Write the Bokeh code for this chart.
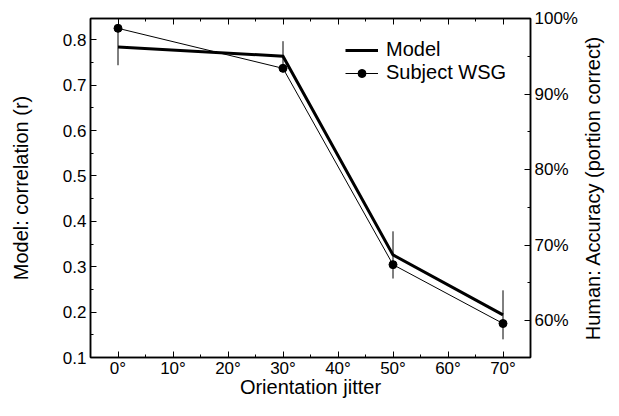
from bokeh.plotting import figure
from bokeh.layouts import row
from bokeh.models import (LinearAxis, Range1d, FixedTicker, Legend, LegendItem,
                          ColumnDataSource, NumeralTickFormatter, BasicTickFormatter)
from bokeh.embed import file_html
from bokeh.resources import INLINE

# ---- data ----
jitter = [0, 30, 50, 70]
model_r = [0.784, 0.764, 0.326, 0.194]
model_err = [0.040, 0.033, 0.052, 0.054]
subject_acc = [0.987, 0.934, 0.674, 0.596]

x_ticks = [0, 10, 20, 30, 40, 50, 60, 70]
x_minor = [5, 15, 25, 35, 45, 55, 65]
x_tick_labels = ["0°", "10°", "20°", "30°", "40°", "50°", "60°", "70°"]
left_ticks = [0.1, 0.2, 0.3, 0.4, 0.5, 0.6, 0.7, 0.8]
left_minor = [0.15, 0.25, 0.35, 0.45, 0.55, 0.65, 0.75]
right_ticks = [0.6, 0.7, 0.8, 0.9, 1.0]
right_minor = [0.65, 0.75, 0.85, 0.95]

FONT = "Liberation Sans"
TICK_FS = "17px"

src = ColumnDataSource(dict(
    x=jitter, m=model_r, s=subject_acc,
    lo=[v - e for v, e in zip(model_r, model_err)],
    hi=[v + e for v, e in zip(model_r, model_err)],
))

p = figure(width=580, height=400, output_backend="svg", toolbar_location=None,
           x_range=Range1d(-5, 75), y_range=Range1d(0.1, 0.847),
           min_border_left=90, min_border_right=48, min_border_top=18,
           min_border_bottom=42, x_axis_location=None, y_axis_location=None)
p.extra_y_ranges = {"acc": Range1d(0.551, 1.0)}
p.xgrid.visible = False
p.ygrid.visible = False
p.outline_line_color = "black"
p.outline_line_width = 1.5
p.background_fill_color = "white"
p.border_fill_color = "white"


def style(ax, label_fs="20px"):
    ax.axis_line_color = "black"
    ax.axis_line_width = 1.5
    ax.major_tick_in = 6
    ax.major_tick_out = 0
    ax.minor_tick_in = 3
    ax.minor_tick_out = 0
    ax.major_tick_line_color = "black"
    ax.minor_tick_line_color = "black"
    ax.major_label_text_font = FONT
    ax.major_label_text_font_size = TICK_FS
    ax.major_label_text_color = "black"
    ax.axis_label_text_font = FONT
    ax.axis_label_text_font_size = label_fs
    ax.axis_label_text_font_style = "normal"
    ax.axis_label_text_color = "black"


xb = LinearAxis(ticker=FixedTicker(ticks=x_ticks, minor_ticks=x_minor),
                axis_label="Orientation jitter")
style(xb, "20px")
xb.major_label_overrides = {t: l for t, l in zip(x_ticks, x_tick_labels)}
xb.major_label_standoff = 1
xb.axis_label_standoff = -5
p.add_layout(xb, "below")

xt = LinearAxis(ticker=FixedTicker(ticks=x_ticks, minor_ticks=x_minor))
style(xt)
xt.major_label_text_color = None
xt.major_label_text_font_size = "1px"
xt.major_label_standoff = 0
p.add_layout(xt, "above")

yl = LinearAxis(ticker=FixedTicker(ticks=left_ticks, minor_ticks=left_minor),
                formatter=BasicTickFormatter(precision=1),
                axis_label="Model: correlation (r)")
style(yl)
yl.major_label_standoff = 4
yl.axis_label_standoff = 28
p.add_layout(yl, "left")

yr = LinearAxis(y_range_name="acc",
                ticker=FixedTicker(ticks=right_ticks, minor_ticks=right_minor),
                formatter=NumeralTickFormatter(format="0%"))
style(yr)
yr.major_label_standoff = 4
p.add_layout(yr, "right")

# error bars (model)
p.segment(x0="x", y0="lo", x1="x", y1="hi", source=src,
          line_color="black", line_width=1)

model_line = p.line("x", "m", source=src, line_color="black", line_width=3,
                    line_join="miter")
subj_line = p.line("x", "s", source=src, y_range_name="acc",
                   line_color="black", line_width=1)
subj_dots = p.scatter("x", "s", source=src, y_range_name="acc", size=8,
                      fill_color="black", line_color="black")

legend = Legend(items=[LegendItem(label="Model", renderers=[model_line]),
                       LegendItem(label="Subject WSG", renderers=[subj_line, subj_dots])],
                location=(255, 273), orientation="vertical")
legend.border_line_color = None
legend.background_fill_alpha = 0
legend.padding = 0
legend.margin = 0
legend.spacing = 0
legend.glyph_width = 33
legend.glyph_height = 20
legend.label_height = 20
legend.label_standoff = 8
legend.label_text_font = FONT
legend.label_text_font_size = "20px"
legend.label_text_color = "black"
p.add_layout(legend)

# narrow companion figure that only carries the right-hand axis title,
# drawn as a left axis title so that it reads bottom-to-top
side = figure(width=23, height=400, output_backend="svg", toolbar_location=None,
              x_range=Range1d(0, 1), y_range=Range1d(0.551, 1.0),
              min_border_left=22, min_border_right=0, min_border_top=18,
              min_border_bottom=42, x_axis_location=None, y_axis_location=None)
side.xgrid.visible = False
side.ygrid.visible = False
side.outline_line_color = None
side.background_fill_color = "white"
side.border_fill_color = "white"
side_ax = LinearAxis(ticker=FixedTicker(ticks=[], minor_ticks=[]),
                     axis_label="Human: Accuracy (portion correct)")
style(side_ax)
side_ax.axis_line_color = None
side_ax.major_tick_line_color = None
side_ax.minor_tick_line_color = None
side_ax.major_label_standoff = 0
side_ax.axis_label_standoff = 0
side.add_layout(side_ax, "left")

layout = row(p, side, spacing=0)
open("out.html", "w").write(file_html(layout, INLINE))
